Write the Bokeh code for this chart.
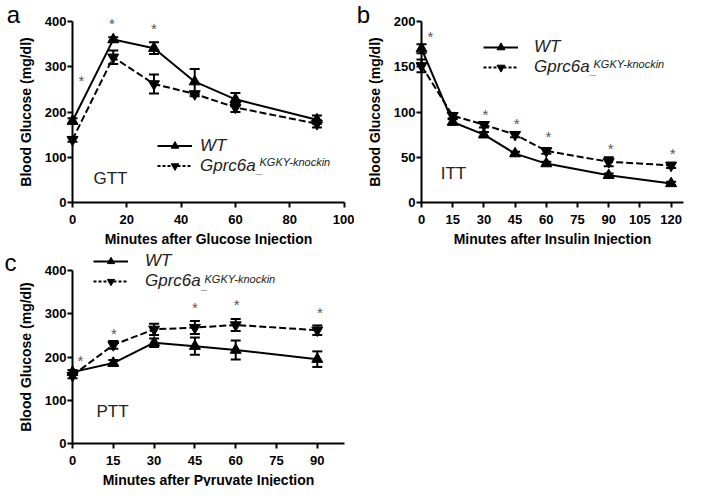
import math
from bokeh.plotting import figure
from bokeh.layouts import column, row
from bokeh.models import (FixedTicker, Legend, LegendItem, Label, Whisker,
                          ColumnDataSource, TeeHead, Range1d)
from bokeh.core.properties import value
from bokeh.embed import file_html
from bokeh.resources import INLINE

FONT = "Liberation Sans"

# ---------------- data ----------------
# Panel a: GTT
gtt_minutes = [0, 15, 30, 45, 60, 90]
gtt_wt = [180, 360, 341, 267, 228, 183]
gtt_wt_sem = [6, 5, 13, 28, 14, 9]
gtt_ko = [139, 321, 262, 240, 210, 174]
gtt_ko_sem = [5, 15, 21, 5, 10, 8]
gtt_star_x = [3.3, 14.5, 30]
gtt_star_y = [278, 404, 394]
gtt_xticks = [0, 20, 40, 60, 80, 100]
gtt_yticks = [0, 100, 200, 300, 400]

# Panel b: ITT
itt_minutes = [0, 15, 30, 45, 60, 90, 120]
itt_wt = [170, 89, 75, 54, 43, 30, 21]
itt_wt_sem = [5, 3, 3, 2, 2, 2, 2]
itt_ko = [151, 96, 86, 75, 57, 45, 41]
itt_ko_sem = [7, 3, 3, 3, 3, 5, 3]
itt_star_x = [4.3, 30.7, 45.8, 61, 90.9, 120.8]
itt_star_y = [188, 102, 92, 77, 64, 59]
itt_xticks = [0, 15, 30, 45, 60, 75, 90, 105, 120]
itt_yticks = [0, 50, 100, 150, 200]

# Panel c: PTT
ptt_minutes = [0, 15, 30, 45, 60, 90]
ptt_wt = [165, 186, 233, 225, 216, 195]
ptt_wt_sem = [5, 7, 10, 20, 22, 18]
ptt_ko = [157, 228, 264, 268, 274, 262]
ptt_ko_sem = [6, 9, 13, 15, 14, 11]
ptt_star_x = [2.9, 15.2, 45, 60.4, 91]
ptt_star_y = [202, 264, 323, 330, 313]
ptt_xticks = [0, 15, 30, 45, 60, 75, 90]
ptt_yticks = [0, 100, 200, 300, 400]

series_names = ["WT", "Gprc6a"]
superscript = "KGKY-knockin"

NAN = float("nan")


def make_panel(letter, test_name, xlabel, minutes, wt, wt_sem, ko, ko_sem,
               star_x, star_y, xticks, yticks, xbound, ybound,
               w, h, x0, sx, y0, sy,
               letter_pos, test_pos, legend_loc, row_h, standoff,
               dash_pos, sup_pos):
    # frame covers the whole canvas; axes are pinned at data 0
    xr = Range1d(-x0 / sx, (w - x0) / sx)
    yr = Range1d(-(h - y0) / sy, y0 / sy)
    p = figure(frame_width=w, frame_height=h, x_range=xr, y_range=yr,
               output_backend="svg", toolbar_location=None, title=None,
               min_border=0)
    p.outline_line_color = None
    p.grid.visible = False

    for ax in (p.xaxis[0], p.yaxis[0]):
        ax.axis_line_width = 2
        ax.axis_line_color = "black"
        ax.major_tick_line_width = 2
        ax.major_tick_line_color = "black"
        ax.major_tick_in = 0
        ax.major_tick_out = 5
        ax.minor_tick_line_color = None
        ax.major_label_text_font = FONT
        ax.major_label_text_font_style = "bold"
        ax.major_label_text_font_size = "13px"
        ax.major_label_text_color = "black"
        ax.axis_label_text_font = FONT
        ax.axis_label_text_font_style = "bold"
        ax.axis_label_text_font_size = "14px"
        ax.axis_label_text_color = "black"
    p.xaxis.ticker = FixedTicker(ticks=xticks)
    p.yaxis.ticker = FixedTicker(ticks=yticks)
    p.xaxis.bounds = xbound
    p.yaxis.bounds = ybound
    p.yaxis.fixed_location = 0
    p.xaxis.fixed_location = 0
    p.xaxis.axis_label = xlabel
    p.yaxis.axis_label = "Blood Glucose (mg/dl)"
    p.xaxis.major_label_standoff = 7
    p.xaxis.axis_label_standoff = 4
    p.yaxis.major_label_standoff = 1
    p.yaxis.axis_label_standoff = 8

    # error bars
    for vals, sem in ((wt, wt_sem), (ko, ko_sem)):
        src = ColumnDataSource(dict(x=minutes,
                                    upper=[v + s for v, s in zip(vals, sem)],
                                    lower=[v - s for v, s in zip(vals, sem)]))
        wk = Whisker(base="x", upper="upper", lower="lower", source=src,
                     dimension="height", line_width=2, line_color="black",
                     upper_head=TeeHead(size=10, line_width=2, line_color="black"),
                     lower_head=TeeHead(size=10, line_width=2, line_color="black"))
        p.add_layout(wk)

    p.line(minutes, wt, line_color="black", line_width=2)
    p.line(minutes, ko, line_color="black", line_width=2, line_dash="7 3")
    p.scatter(minutes, wt, marker="triangle", size=11, color="black")
    p.scatter(minutes, ko, marker="inverted_triangle", size=11, color="black")

    p.text(x=star_x, y=star_y, text=["*"] * len(star_x), text_align="center",
           text_baseline="middle", text_font=value(FONT), text_font_size="15px",
           text_color="#555555", y_offset=4)

    # legend glyph renderers (no visible points)
    lw1 = p.line([NAN], [NAN], line_color="black", line_width=2)
    sw1 = p.scatter([NAN], [NAN], marker="triangle", size=11, color="black")
    lw2 = p.line([NAN], [NAN], line_color="black", line_width=2, line_dash="3 2")
    sw2 = p.scatter([NAN], [NAN], marker="inverted_triangle", size=11, color="black")
    legend = Legend(items=[LegendItem(label=series_names[0], renderers=[lw1, sw1]),
                           LegendItem(label=series_names[1], renderers=[lw2, sw2])],
                    location=legend_loc, orientation="vertical",
                    glyph_width=35, glyph_height=row_h,
                    label_height=row_h, label_standoff=standoff,
                    spacing=0, padding=0, margin=0,
                    label_text_font=FONT, label_text_font_style="italic",
                    label_text_font_size="17px", label_text_color="#222222",
                    background_fill_alpha=0, border_line_alpha=0)
    p.add_layout(legend)

    def screen_label(pos, text, size, style="normal", align="left",
                     baseline="middle", color="#222222"):
        p.add_layout(Label(x=pos[0], y=h - pos[1], x_units="screen", y_units="screen",
                           text=text, text_font=FONT, text_font_style=style,
                           text_font_size=size, text_align=align,
                           text_baseline=baseline, text_color=color))

    screen_label(dash_pos, "_", "11px", style="italic", baseline="alphabetic")
    screen_label(sup_pos, superscript, "11px", style="italic")
    screen_label(letter_pos, letter, "24px", align="center", color="black")
    screen_label(test_pos, test_name, "17px", align="center")
    return p


# positions below are canvas pixels from each panel's top-left corner
pa = make_panel("a", "GTT", "Minutes after Glucose Injection",
                gtt_minutes, gtt_wt, gtt_wt_sem, gtt_ko, gtt_ko_sem,
                gtt_star_x, gtt_star_y, gtt_xticks, gtt_yticks,
                (0, 100), (0, 400),
                354, 245, 72, 2.7157, 202, 0.4525,
                (13, 14), (110, 178), (157, 245 - 175.5), 19, 8,
                (256, 168), (259, 161))

pb = make_panel("b", "ITT", "Minutes after Insulin Injection",
                itt_minutes, itt_wt, itt_wt_sem, itt_ko, itt_ko_sem,
                itt_star_x, itt_star_y, itt_xticks, itt_yticks,
                (0, 126), (0, 200),
                331, 245, 67, 2.08, 202, 0.905,
                (9, 14), (99, 173), (129, 245 - 77), 20, 16,
                (236, 69), (239, 63))

pc = make_panel("c", "PTT", "Minutes after Pyruvate Injection",
                ptt_minutes, ptt_wt, ptt_wt_sem, ptt_ko, ptt_ko_sem,
                ptt_star_x, ptt_star_y, ptt_xticks, ptt_yticks,
                (0, 100), (0, 400),
                354, 241, 72, 2.72, 198, 0.4325,
                (10, 17), (112, 166), (93, 241 - 46), 18, 17,
                (201, 39), (204, 33))

layout = column(row(pa, pb), pc)
open("out.html", "w").write(file_html(layout, INLINE))
